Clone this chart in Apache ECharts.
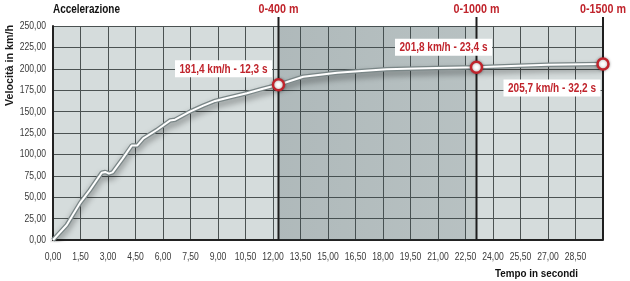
<!DOCTYPE html>
<html>
<head>
<meta charset="utf-8">
<script src="https://cdn.jsdelivr.net/npm/echarts@6/dist/echarts.min.js"></script>
<style>
html,body{margin:0;padding:0;background:#fff;}
#c{width:630px;height:281px;}
</style>
</head>
<body>
<div id="c"></div>
<script>
// ---- data ----
const curveTime  = [0, 0.75, 1.5, 2.0, 2.66, 2.85, 3.05, 3.25, 3.8, 4.3, 4.6, 4.93, 5.66, 6.38, 6.66, 7.47, 8.2, 8.84, 9.05, 9.6, 10.57, 11.4, 12.3, 13.65, 15.5, 18.2, 20.9, 23.1, 25.0, 27.0, 30.0];
const curveSpeed = [0, 17.5, 44, 58, 78.6, 79.5, 77.5, 79, 95, 110.5, 110.5, 118.8, 128.5, 139.5, 140.5, 150, 157, 162.5, 163.5, 166.5, 171.4, 176.5, 181.4, 190.8, 195.5, 199.4, 201.0, 201.8, 203.3, 204.6, 205.7];
const markerTime   = [12.3, 23.1, 30.0];      // positions on the drawn time axis
const markerSpeed  = [181.4, 201.8, 205.7];
const markerLabels = ['181,4 km/h - 12,3 s', '201,8 km/h - 23,4 s', '205,7 km/h - 32,2 s'];
const distanceLabels = ['0-400 m', '0-1000 m', '0-1500 m'];
const xTickValues = [0, 1.5, 3, 4.5, 6, 7.5, 9, 10.5, 12, 13.5, 15, 16.5, 18, 19.5, 21, 22.5, 24, 25.5, 27, 28.5];
const xTickLabels = ['0,00', '1,50', '3,00', '4,50', '6,00', '7,50', '9,00', '10,50', '12,00', '13,50', '15,00', '16,50', '18,00', '19,50', '21,00', '22,50', '24,00', '25,50', '27,00', '28,50'];
const yTickValues = [0, 25, 50, 75, 100, 125, 150, 175, 200, 225, 250];
const yTickLabels = ['0,00', '25,00', '50,00', '75,00', '100,00', '125,00', '150,00', '175,00', '200,00', '225,00', '250,00'];
const xTickStep = 1.5, xMax = 30;
const yTickStep = 25, yMax = 250;

const RED = '#c0242c';
const FAMQ = '"Liberation Sans", Arial, sans-serif';

// condensed look: measure text and squeeze it horizontally
const cv = document.createElement('canvas').getContext('2d');
function tw(font, text) { cv.font = font; return cv.measureText(text).width; }
const F_AXIS = '11px ' + FAMQ;
const F_B12 = 'bold 12px ' + FAMQ;
const F_B11 = 'bold 11px ' + FAMQ;
const sAxis  = 21.5 / tw(F_AXIS, '10,50');
const sTitle = 67 / tw(F_B12, 'Accelerazione');
const sYName = 81 / tw(F_B11, 'Velocità in km/h');
const sXName = 83 / tw(F_B11, 'Tempo in secondi');
const sDist  = 46 / tw(F_B12, '0-1000 m');
const sMark  = 88 / tw(F_B12, '181,4 km/h - 12,3 s');

const chart = echarts.init(document.getElementById('c'), null, {renderer: 'canvas'});
const curveData = curveTime.map((t, i) => [t, curveSpeed[i]]);
const labelOffsets = [[-55, -16], [-33, -20], [-51, 24]];

function textEl(text, x, y, font, scale, align, fill) {
  return {type: 'text', x: x, y: y, scaleX: scale,
    style: {text: text, x: 0, y: 0, align: align, verticalAlign: 'middle', font: font, fill: fill}};
}

chart.setOption({
  animation: false,
  grid: {left: 53, right: 27, top: 26, bottom: 41, show: true, backgroundColor: '#d5dcdc', borderWidth: 0},
  xAxis: {
    type: 'value', min: 0, max: xMax, interval: xTickStep,
    axisLine: {show: true, lineStyle: {color: '#222', width: 2}},
    axisTick: {show: false},
    splitLine: {show: true, lineStyle: {color: '#4b5252', width: 1}},
    axisLabel: {show: false}
  },
  yAxis: {
    type: 'value', min: 0, max: yMax, interval: yTickStep,
    axisLine: {show: true, lineStyle: {color: '#222', width: 2}},
    axisTick: {show: false},
    splitLine: {show: true, lineStyle: {color: '#4b5252', width: 1}},
    axisLabel: {show: false}
  },
  graphic: [
    {type: 'text', x: 53, y: 10, scaleX: sTitle, style: {text: 'Accelerazione', x: 0, y: 0, verticalAlign: 'middle', fill: '#111', font: F_B12}},
    {type: 'text', x: 10, y: 106, rotation: Math.PI / 2, scaleX: sYName, style: {text: 'Velocità in km/h', x: 0, y: 0, verticalAlign: 'middle', fill: '#1a1a1a', font: F_B11}},
    {type: 'text', x: 495, y: 274, scaleX: sXName, style: {text: 'Tempo in secondi', x: 0, y: 0, verticalAlign: 'middle', fill: '#111', font: F_B11}}
  ],
  series: [
    {
      type: 'line', data: curveData, symbol: 'none', smooth: false, z: 3,
      lineStyle: {color: '#7a8687', width: 4.5, shadowColor: 'rgba(0,0,0,0.4)', shadowBlur: 6, shadowOffsetY: 4},
      markArea: {
        silent: true,
        data: [
          [{xAxis: markerTime[0], itemStyle: {color: {type: 'linear', x: 0, y: 0, x2: 1, y2: 0,
            colorStops: [{offset: 0, color: 'rgba(55,75,80,0.24)'}, {offset: 1, color: 'rgba(55,75,80,0.19)'}]}}},
           {xAxis: 22.5}],
          [{xAxis: 22.5, itemStyle: {color: 'rgba(55,75,80,0.13)'}}, {xAxis: markerTime[1]}]
        ]
      }
    },
    {
      type: 'line', data: curveData, symbol: 'none', smooth: false, z: 4,
      lineStyle: {color: '#ffffff', width: 2}
    },
    // x tick labels
    {
      type: 'custom', z: 5, clip: false, silent: true,
      data: xTickValues.map(v => [v, 0]),
      renderItem: (params, api) => {
        const p = api.coord([api.value(0), 0]);
        return textEl(xTickLabels[params.dataIndex], p[0], p[1] + 17, F_AXIS, sAxis, 'center', '#3a3a3a');
      }
    },
    // y tick labels
    {
      type: 'custom', z: 5, clip: false, silent: true,
      data: yTickValues.map(v => [0, v]),
      renderItem: (params, api) => {
        const p = api.coord([0, api.value(1)]);
        return textEl(yTickLabels[params.dataIndex], p[0] - 7, p[1], F_AXIS, sAxis, 'right', '#3a3a3a');
      }
    },
    // distance marker lines + headings
    {
      type: 'custom', z: 5, clip: false, silent: true,
      data: markerTime.map(t => [t]),
      renderItem: (params, api) => {
        const x = api.value(0);
        const p0 = api.coord([x, 0]);
        const p1 = api.coord([x, yMax]);
        return {
          type: 'group',
          children: [
            {type: 'line', shape: {x1: p0[0], y1: p0[1], x2: p1[0], y2: p1[1] - 9},
             style: {stroke: '#1e1e1e', lineWidth: 2}},
            textEl(distanceLabels[params.dataIndex], p1[0], p1[1] - 16, F_B12, sDist, 'center', RED)
          ]
        };
      }
    },
    {
      type: 'scatter', z: 6, data: markerTime.map((t, i) => [t, markerSpeed[i]]), symbol: 'circle', symbolSize: 11,
      itemStyle: {color: '#ffffff', opacity: 1, borderColor: RED, borderWidth: 2.5, shadowColor: 'rgba(0,0,0,0.35)', shadowBlur: 3}
    },
    // value labels in white boxes
    {
      type: 'custom', z: 7, clip: false, silent: true,
      data: markerTime.map((t, i) => [t, markerSpeed[i]]),
      renderItem: (params, api) => {
        const i = params.dataIndex;
        const p = api.coord([api.value(0), api.value(1)]);
        const cx = p[0] + labelOffsets[i][0], cy = p[1] + labelOffsets[i][1];
        const wdt = tw(F_B12, markerLabels[i]) * sMark + 9, hgt = 17;
        return {
          type: 'group',
          children: [
            {type: 'rect', shape: {x: cx - wdt / 2, y: cy - hgt / 2, width: wdt, height: hgt},
             style: {fill: '#ffffff'}},
            textEl(markerLabels[i], cx, cy + 0.5, F_B12, sMark, 'center', RED)
          ]
        };
      }
    }
  ]
});
</script>
</body>
</html>
